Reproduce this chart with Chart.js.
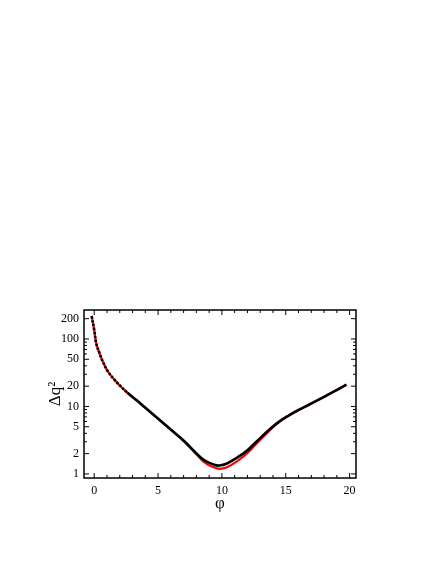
<!DOCTYPE html>
<html>
<head>
<meta charset="utf-8">
<script src="https://cdn.jsdelivr.net/npm/chart.js@4"></script>
<style>
  html, body { margin: 0; padding: 0; background: #fff; }
  #wrap { width: 436px; height: 564px; }
</style>
</head>
<body>
<div id="wrap"><canvas id="chart" width="436" height="564"></canvas></div>
<script>
// values
const phi      = [-0.2, 0, 0.16, 0.42, 0.68, 1.07, 1.6, 2.1, 2.6, 3.4, 4.05, 5.1, 6.7, 7.1, 7.85, 8.6, 9.4, 9.8, 10.4, 11.2, 12.0, 12.85, 13.7, 14.45, 15.25, 16.0, 16.8, 17.5, 18.35, 19.75];
const blackDq2 = [219, 136, 86, 61, 46, 33, 24.7, 19.6, 16, 12.0, 9.4, 6.35, 3.5, 3.0, 2.15, 1.6, 1.37, 1.33, 1.43, 1.75, 2.25, 3.2, 4.5, 5.9, 7.4, 8.9, 10.6, 12.4, 15.1, 21];
const redDq2   = [219, 136, 86, 61, 46, 33, 24.7, 19.6, 16, 12.0, 9.4, 6.35, 3.5, 2.95, 2.1, 1.5, 1.24, 1.19, 1.26, 1.55, 2.05, 3.0, 4.35, 5.8, 7.3, 8.8, 10.5, 12.3, 15.0, 21];
const xTicks = [0, 5, 10, 15, 20];
const yTicks = [1, 2, 5, 10, 20, 50, 100, 200];

const pts = (ys) => phi.map((p, i) => ({ x: p, y: ys[i] }));
const serif = 'Liberation Serif, Times New Roman, serif';

// frame with inward ticks on all four sides, like the original plot
const framePlugin = {
  id: 'frame',
  afterDraw(chart) {
    const { ctx, chartArea: a, scales } = chart;
    const xs = scales.x, ys = scales.y;
    ctx.save();
    ctx.strokeStyle = '#000';
    ctx.lineWidth = 1.5;
    ctx.strokeRect(a.left, a.top, a.right - a.left, a.bottom - a.top);
    ctx.lineWidth = 1;
    const tick = (px, len, horiz) => {
      ctx.beginPath();
      if (horiz) {
        ctx.moveTo(px, a.bottom); ctx.lineTo(px, a.bottom - len);
        ctx.moveTo(px, a.top); ctx.lineTo(px, a.top + len);
      } else {
        ctx.moveTo(a.left, px); ctx.lineTo(a.left + len, px);
        ctx.moveTo(a.right, px); ctx.lineTo(a.right - len, px);
      }
      ctx.stroke();
    };
    for (let v = 0; v <= 20; v++) {
      tick(xs.getPixelForValue(v), v % 5 === 0 ? 5 : 3, true);
    }
    for (const d of [1, 10, 100]) {
      for (let m = 1; m <= 9; m++) {
        const v = d * m;
        if (v > ys.max) continue;
        tick(ys.getPixelForValue(v), yTicks.includes(v) ? 5 : 3, false);
      }
    }
    ctx.restore();
  }
};

new Chart(document.getElementById('chart'), {
  type: 'line',
  data: {
    datasets: [
      {
        label: 'black',
        data: pts(blackDq2),
        borderColor: '#000',
        borderWidth: 2.6,
        pointRadius: 0,
        tension: 0.4,
        // the steep start is drawn as dots over the red line
        segment: { borderDash: (c) => c.p0.parsed.x < 2.6 ? [2.5, 1.5] : undefined }
      },
      {
        label: 'red',
        data: pts(redDq2),
        borderColor: '#ff0000',
        borderWidth: 2.2,
        pointRadius: 0,
        tension: 0.4
      }
    ]
  },
  options: {
    responsive: false,
    animation: false,
    layout: { padding: { left: 0, right: 80, top: 310, bottom: 0 } },
    plugins: { legend: { display: false }, tooltip: { enabled: false } },
    scales: {
      x: {
        type: 'linear',
        min: -0.8,
        max: 20.5,
        grid: { display: false, drawTicks: false },
        border: { display: false },
        afterBuildTicks: (s) => { s.ticks = xTicks.map(v => ({ value: v })); },
        afterFit: (s) => { s.height = 86; },
        ticks: {
          color: '#000',
          padding: 6,
          maxRotation: 0,
          font: { family: serif, size: 12 },
          callback: (v) => String(v)
        },
        title: {
          display: true,
          text: 'φ',
          color: '#000',
          font: { family: serif, size: 17 },
          padding: { top: 0, bottom: 50 },
          align: 'center'
        }
      },
      y: {
        type: 'logarithmic',
        min: 0.87,
        max: 269,
        grid: { display: false, drawTicks: false },
        border: { display: false },
        afterBuildTicks: (s) => { s.ticks = yTicks.map(v => ({ value: v })); },
        afterFit: (s) => { s.width = 84; },
        ticks: {
          color: '#000',
          padding: 5,
          font: { family: serif, size: 12 },
          callback: (v) => String(v)
        },
        title: {
          display: true,
          text: 'Δq²',
          color: '#000',
          font: { family: serif, size: 17 },
          padding: { top: 45, bottom: 0 }
        }
      }
    }
  },
  plugins: [framePlugin]
});
</script>
</body>
</html>
